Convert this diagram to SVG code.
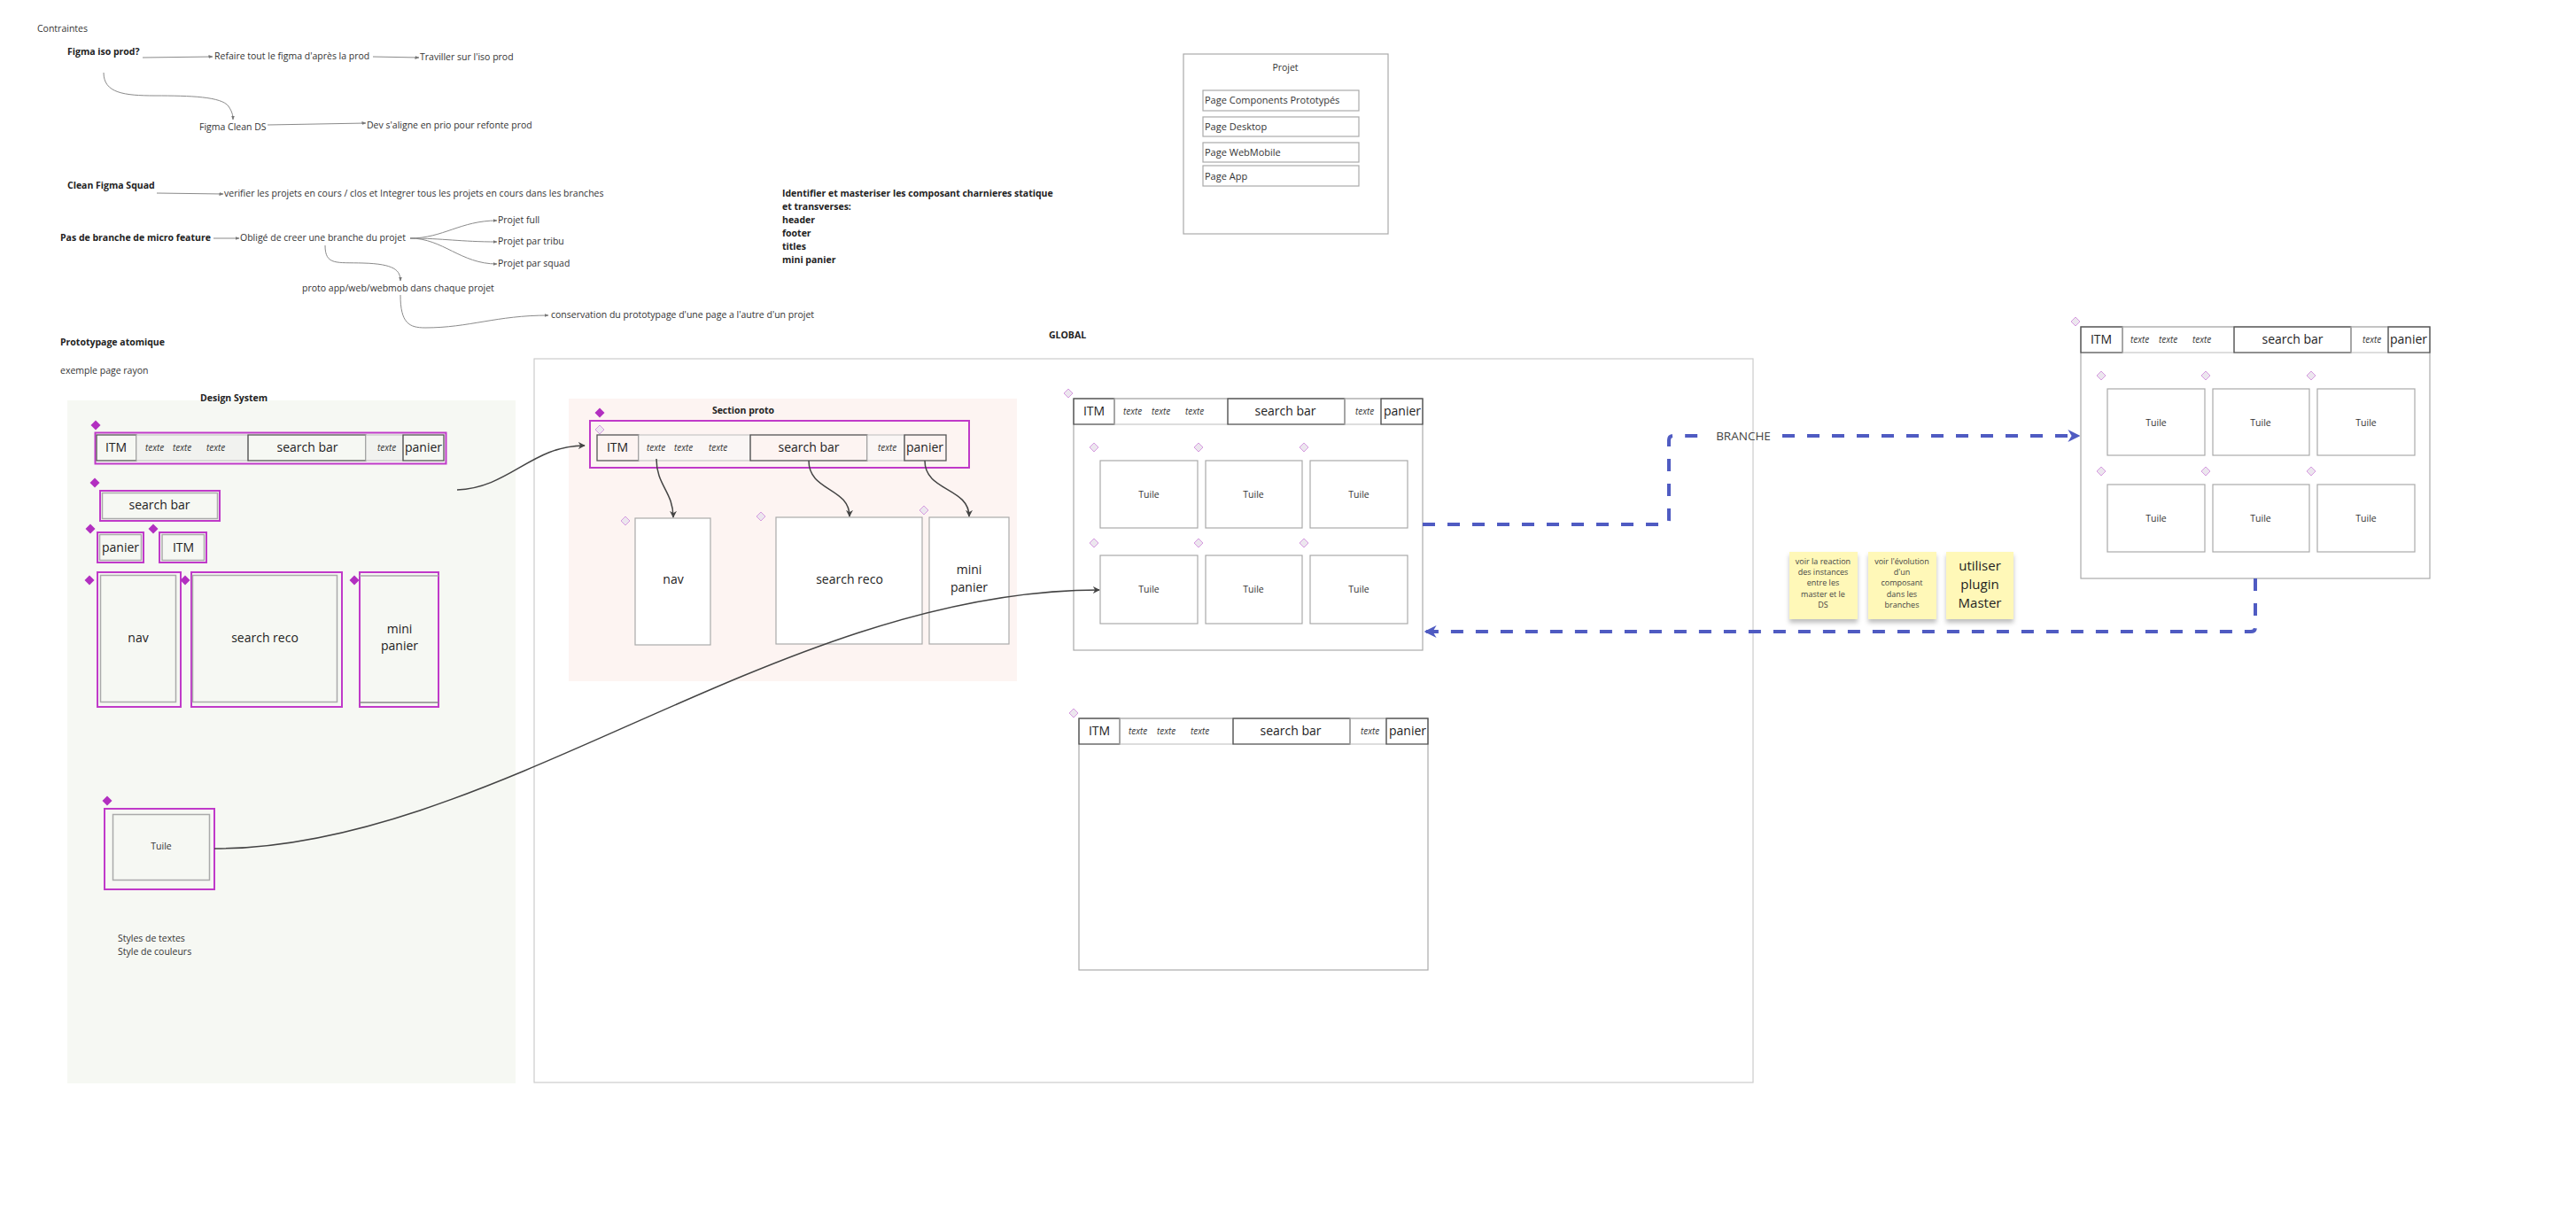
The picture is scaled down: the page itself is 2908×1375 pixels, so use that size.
<svg xmlns="http://www.w3.org/2000/svg" xmlns:xlink="http://www.w3.org/1999/xlink" width="2908" height="1375" viewBox="0 0 2908 1375">
<style>
text{font-family:"Open Sans","Noto Sans","DejaVu Sans",sans-serif;fill:#333}
.t{font-size:10.5px}
.b{font-size:10.5px;font-weight:bold;fill:#222}
.m{text-anchor:middle}
.big{font-size:14px;fill:#222}
.it{font-size:10px;font-style:italic;fill:#333}
.tu{font-size:10.5px;text-anchor:middle}
.pj{font-size:11px}
.st{font-size:9px;text-anchor:middle;fill:#444}
.st2{font-size:15px;text-anchor:middle;fill:#222}
.mg{fill:none;stroke:#c03ac9;stroke-width:2}
.gr{fill:none;stroke:#aaa;stroke-width:1.5}
.box{fill:#fff;stroke:#aaa;stroke-width:1.2}
.dk{fill:none;stroke:#555;stroke-width:1.3}
.lt{fill:none;stroke:#bbb;stroke-width:1}
.ltg{fill:#f1f2ef;stroke:#bbb;stroke-width:1}
.ltp{fill:#faf6f5;stroke:#bbb;stroke-width:1}
.df{fill:#b22fc0}
.dl{fill:#ece6ee;stroke:#d69be0;stroke-width:1}
.cg{fill:none;stroke:#8a8a8a;stroke-width:1}
.cd{fill:none;stroke:#444;stroke-width:1.5}
.cb{fill:none;stroke:#4f5bc2;stroke-width:4;stroke-dasharray:14 14}
.sn{fill:#fff8b8}
</style>
<defs>
<marker id="ag" viewBox="0 0 10 10" refX="9" refY="5" markerWidth="5" markerHeight="5" orient="auto"><path d="M0,1 L10,5 L0,9 Z" fill="#777"/></marker>
<marker id="ad" viewBox="0 0 10 10" refX="9" refY="5" markerWidth="8" markerHeight="8" orient="auto" markerUnits="userSpaceOnUse"><path d="M0,0 L10,5 L0,10 L3,5 Z" fill="#444"/></marker>
<marker id="ab" viewBox="0 0 10 10" refX="9" refY="5" markerWidth="14" markerHeight="14" orient="auto" markerUnits="userSpaceOnUse"><path d="M0,0 L10,5 L0,10 L3,5 Z" fill="#4f5bc2"/></marker>
<path id="dF" d="M0,-5.5 L5.5,0 L0,5.5 L-5.5,0 Z" class="df"/>
<path id="dL" d="M0,-5 L5,0 L0,5 L-5,0 Z" class="dl"/>
<filter id="sh" x="-20%" y="-20%" width="140%" height="150%"><feDropShadow dx="0" dy="4" stdDeviation="2.5" flood-color="#000" flood-opacity="0.25"/></filter>
</defs>

<rect width="2908" height="1375" fill="#fff"/>

<!-- backgrounds / frames -->
<g id="ds-frame">
<rect x="76" y="452" width="506" height="771" fill="#f6f8f3"/>
<text class="b m" x="264" y="453">Design System</text>
</g>
<g id="global-frame">
<rect x="603" y="405" width="1376" height="817" fill="#fff" stroke="#ccc" stroke-width="1.2"/>
<text class="b m" x="1205" y="382">GLOBAL</text>
</g>
<g id="proto-frame">
<rect x="642" y="450" width="506" height="319" fill="#fdf4f2"/>
<text class="b m" x="839" y="467">Section proto</text>
</g>

<!-- top notes -->
<g id="notes">
<text class="t" x="42" y="36">Contraintes</text>
<text class="b" x="76" y="62">Figma iso prod?</text>
<text class="t" x="242" y="67">Refaire tout le figma d'après la prod</text>
<text class="t" x="474" y="68">Traviller sur l'iso prod</text>
<text class="t" x="225" y="147">Figma Clean DS</text>
<text class="t" x="414" y="145">Dev s'aligne en prio pour refonte prod</text>
<text class="b" x="76" y="213">Clean Figma Squad</text>
<text class="t" x="253" y="222">verifier les projets en cours / clos  et Integrer tous les projets en cours dans les branches</text>
<text class="b" x="68" y="272">Pas de branche de micro feature</text>
<text class="t" x="271" y="272">Obligé de creer une branche  du projet</text>
<text class="t" x="562" y="252">Projet full</text>
<text class="t" x="562" y="276">Projet par tribu</text>
<text class="t" x="562" y="301">Projet par squad</text>
<text class="t" x="341" y="329">proto app/web/webmob dans chaque projet</text>
<text class="t" x="622" y="359">conservation du prototypage d'une page a l'autre d'un projet</text>
<text class="b" x="68" y="390">Prototypage atomique</text>
<text class="t" x="68" y="422">exemple page rayon</text>
<text class="b" x="883" y="222">Identifier et masteriser les composant charnieres statique</text>
<text class="b" x="883" y="237">et transverses:</text>
<text class="b" x="883" y="252">header</text>
<text class="b" x="883" y="267">footer</text>
<text class="b" x="883" y="282">titles</text>
<text class="b" x="883" y="297">mini panier</text>
<text class="t" x="133" y="1063">Styles de textes</text>
<text class="t" x="133" y="1078">Style de couleurs</text>
</g>

<!-- Projet box -->
<g id="projet">
<rect x="1336" y="61" width="231" height="203" class="box"/>
<text class="t m" x="1451" y="80">Projet</text>
<rect x="1358" y="102" width="176" height="23" class="box"/>
<text class="pj" x="1360" y="117">Page Components Prototypés</text>
<rect x="1358" y="132" width="176" height="22" class="box"/>
<text class="pj" x="1360" y="147">Page Desktop</text>
<rect x="1358" y="161" width="176" height="22" class="box"/>
<text class="pj" x="1360" y="176">Page WebMobile</text>
<rect x="1358" y="187" width="176" height="23" class="box"/>
<text class="pj" x="1360" y="203">Page App</text>
</g>

<!-- Design System components -->
<g id="ds-header">
<use href="#dF" x="108" y="480"/>
<rect x="107.5" y="488.5" width="396" height="35" class="mg"/>
<g transform="translate(109,491)">
<rect x="0" y="0" width="45" height="29" class="dk"/>
<rect x="45" y="0" width="126" height="29" class="ltg"/>
<rect x="171" y="0" width="133" height="29" class="dk"/>
<rect x="304" y="0" width="42" height="29" class="ltg"/>
<rect x="346" y="0" width="46" height="29" class="dk"/>
<text class="big m" x="22" y="19">ITM</text>
<text class="it" x="55" y="18">texte</text><text class="it" x="86" y="18">texte</text><text class="it" x="124" y="18">texte</text>
<text class="big m" x="238" y="19">search bar</text>
<text class="it" x="317" y="18">texte</text>
<text class="big m" x="369" y="19">panier</text>
</g>
</g>
<g id="ds-searchbar">
<use href="#dF" x="107" y="545"/>
<rect x="113" y="554" width="135" height="34" class="mg"/>
<rect x="115.5" y="556.5" width="130" height="29" class="gr"/>
<text class="big m" x="180" y="575">search bar</text>
</g>
<g id="ds-panier">
<use href="#dF" x="102" y="597"/>
<rect x="110" y="601" width="52" height="34" class="mg"/>
<rect x="112.5" y="603.5" width="47" height="29" class="gr"/>
<text class="big m" x="136" y="623">panier</text>
</g>
<g id="ds-itm">
<use href="#dF" x="173" y="597"/>
<rect x="180" y="601" width="53" height="34" class="mg"/>
<rect x="183" y="603.5" width="47.5" height="29" class="gr"/>
<text class="big m" x="207" y="623">ITM</text>
</g>
<g id="ds-nav">
<use href="#dF" x="101" y="655"/>
<rect x="110" y="646" width="94" height="152" class="mg"/>
<rect x="113.5" y="649.5" width="85" height="143" class="gr"/>
<text class="big m" x="156" y="725">nav</text>
</g>
<g id="ds-searchreco">
<use href="#dF" x="209" y="655"/>
<rect x="216" y="646" width="170" height="152" class="mg"/>
<rect x="217.5" y="649.5" width="163" height="143" class="gr"/>
<text class="big m" x="299" y="725">search reco</text>
</g>
<g id="ds-minipanier">
<use href="#dF" x="400" y="655"/>
<rect x="406" y="646" width="89" height="152" class="mg"/>
<line x1="406" y1="650" x2="495" y2="650" stroke="#aaa" stroke-width="1.5"/>
<line x1="406" y1="793" x2="495" y2="793" stroke="#888" stroke-width="1.5"/>
<text class="big m" x="451" y="715">mini</text>
<text class="big m" x="451" y="734">panier</text>
</g>
<g id="ds-tuile">
<use href="#dF" x="121" y="904"/>
<rect x="118" y="913" width="124" height="91" class="mg"/>
<rect x="127.5" y="919.5" width="109" height="74" class="gr"/>
<text class="tu" x="182" y="959">Tuile</text>
</g>

<!-- Section proto -->
<g id="proto-header">
<use href="#dF" x="677" y="466"/>
<rect x="666" y="475" width="428" height="53" class="mg"/>
<use href="#dL" x="677" y="485"/>
<g transform="translate(674,491)">
<rect x="0" y="0" width="47" height="29" class="dk"/>
<rect x="47" y="0" width="126" height="29" class="ltp"/>
<rect x="173" y="0" width="132" height="29" class="dk"/>
<rect x="305" y="0" width="42" height="29" class="ltp"/>
<rect x="347" y="0" width="47" height="29" class="dk"/>
<text class="big m" x="23" y="19">ITM</text>
<text class="it" x="56" y="18">texte</text><text class="it" x="87" y="18">texte</text><text class="it" x="126" y="18">texte</text>
<text class="big m" x="239" y="19">search bar</text>
<text class="it" x="317" y="18">texte</text>
<text class="big m" x="370" y="19">panier</text>
</g>
</g>
<g id="proto-nav">
<use href="#dL" x="706" y="588"/>
<rect x="717" y="585" width="85" height="143" class="box"/>
<text class="big m" x="760" y="659">nav</text>
</g>
<g id="proto-searchreco">
<use href="#dL" x="859" y="583"/>
<rect x="876" y="584" width="165" height="143" class="box"/>
<text class="big m" x="959" y="659">search reco</text>
</g>
<g id="proto-minipanier">
<use href="#dL" x="1043" y="576"/>
<rect x="1049" y="584" width="90" height="143" class="box"/>
<text class="big m" x="1094" y="648">mini</text>
<text class="big m" x="1094" y="668">panier</text>
</g>

<!-- GLOBAL page top -->
<g id="page-global-top">
<use href="#dL" x="1206" y="444"/>
<rect x="1212" y="450" width="394" height="284" class="box"/>
<g transform="translate(1212,450)">
<rect x="0" y="0" width="46" height="29" class="dk"/>
<rect x="46" y="0" width="128" height="29" class="lt"/>
<rect x="174" y="0" width="132" height="29" class="dk"/>
<rect x="306" y="0" width="41" height="29" class="lt"/>
<rect x="347" y="0" width="47" height="29" class="dk"/>
<text class="big m" x="23" y="19">ITM</text>
<text class="it" x="56" y="18">texte</text><text class="it" x="88" y="18">texte</text><text class="it" x="126" y="18">texte</text>
<text class="big m" x="239" y="19">search bar</text>
<text class="it" x="318" y="18">texte</text>
<text class="big m" x="371" y="19">panier</text>
</g>
<use href="#dL" x="1235" y="505"/><use href="#dL" x="1353" y="505"/><use href="#dL" x="1472" y="505"/>
<use href="#dL" x="1235" y="613"/><use href="#dL" x="1353" y="613"/><use href="#dL" x="1472" y="613"/>
<rect x="1242" y="520" width="110" height="76" class="box" stroke="#ccc"/>
<rect x="1361" y="520" width="109" height="76" class="box" stroke="#ccc"/>
<rect x="1479" y="520" width="110" height="76" class="box" stroke="#ccc"/>
<rect x="1242" y="627" width="110" height="77" class="box" stroke="#ccc"/>
<rect x="1361" y="627" width="109" height="77" class="box" stroke="#ccc"/>
<rect x="1479" y="627" width="110" height="77" class="box" stroke="#ccc"/>
<text class="tu" x="1297" y="562">Tuile</text><text class="tu" x="1415" y="562">Tuile</text><text class="tu" x="1534" y="562">Tuile</text>
<text class="tu" x="1297" y="669">Tuile</text><text class="tu" x="1415" y="669">Tuile</text><text class="tu" x="1534" y="669">Tuile</text>
</g>

<!-- GLOBAL page bottom -->
<g id="page-global-bottom">
<use href="#dL" x="1212" y="805"/>
<rect x="1218" y="811" width="394" height="284" class="box"/>
<g transform="translate(1218,811)">
<rect x="0" y="0" width="46" height="29" class="dk"/>
<rect x="46" y="0" width="128" height="29" class="lt"/>
<rect x="174" y="0" width="132" height="29" class="dk"/>
<rect x="306" y="0" width="41" height="29" class="lt"/>
<rect x="347" y="0" width="47" height="29" class="dk"/>
<text class="big m" x="23" y="19">ITM</text>
<text class="it" x="56" y="18">texte</text><text class="it" x="88" y="18">texte</text><text class="it" x="126" y="18">texte</text>
<text class="big m" x="239" y="19">search bar</text>
<text class="it" x="318" y="18">texte</text>
<text class="big m" x="371" y="19">panier</text>
</g>
</g>

<!-- Right page -->
<g id="page-branch">
<use href="#dL" x="2343" y="363"/>
<rect x="2349" y="369" width="394" height="284" class="box"/>
<g transform="translate(2349,369)">
<rect x="0" y="0" width="47" height="29" class="dk"/>
<rect x="47" y="0" width="126" height="29" class="lt"/>
<rect x="173" y="0" width="132" height="29" class="dk"/>
<rect x="305" y="0" width="42" height="29" class="lt"/>
<rect x="347" y="0" width="47" height="29" class="dk"/>
<text class="big m" x="23" y="19">ITM</text>
<text class="it" x="56" y="18">texte</text><text class="it" x="88" y="18">texte</text><text class="it" x="126" y="18">texte</text>
<text class="big m" x="239" y="19">search bar</text>
<text class="it" x="318" y="18">texte</text>
<text class="big m" x="370" y="19">panier</text>
</g>
<use href="#dL" x="2372" y="424"/><use href="#dL" x="2490" y="424"/><use href="#dL" x="2609" y="424"/>
<use href="#dL" x="2372" y="532"/><use href="#dL" x="2490" y="532"/><use href="#dL" x="2609" y="532"/>
<rect x="2379" y="439" width="110" height="75" class="box" stroke="#ccc"/>
<rect x="2498" y="439" width="109" height="75" class="box" stroke="#ccc"/>
<rect x="2616" y="439" width="110" height="75" class="box" stroke="#ccc"/>
<rect x="2379" y="547" width="110" height="76" class="box" stroke="#ccc"/>
<rect x="2498" y="547" width="109" height="76" class="box" stroke="#ccc"/>
<rect x="2616" y="547" width="110" height="76" class="box" stroke="#ccc"/>
<text class="tu" x="2434" y="481">Tuile</text><text class="tu" x="2552" y="481">Tuile</text><text class="tu" x="2671" y="481">Tuile</text>
<text class="tu" x="2434" y="589">Tuile</text><text class="tu" x="2552" y="589">Tuile</text><text class="tu" x="2671" y="589">Tuile</text>
</g>

<!-- sticky notes -->
<g id="sticky-1">
<rect x="2020" y="623" width="77" height="76" class="sn" filter="url(#sh)"/>
<text class="st" x="2058" y="637">voir la reaction</text>
<text class="st" x="2058" y="649">des instances</text>
<text class="st" x="2058" y="661">entre les</text>
<text class="st" x="2058" y="674">master et le</text>
<text class="st" x="2058" y="686">DS</text>
</g>
<g id="sticky-2">
<rect x="2109" y="623" width="77" height="76" class="sn" filter="url(#sh)"/>
<text class="st" x="2147" y="637">voir l'évolution</text>
<text class="st" x="2147" y="649">d'un</text>
<text class="st" x="2147" y="661">composant</text>
<text class="st" x="2147" y="674">dans les</text>
<text class="st" x="2147" y="686">branches</text>
</g>
<g id="sticky-3">
<rect x="2197" y="623" width="76" height="76" class="sn" filter="url(#sh)"/>
<text class="st2" x="2235" y="644">utiliser</text>
<text class="st2" x="2235" y="665">plugin</text>
<text class="st2" x="2235" y="686">Master</text>
</g>

<!-- connectors -->
<g id="connectors">
<path class="cg" d="M161,65 L240,64" marker-end="url(#ag)"/>
<path class="cg" d="M421,64 L473,65" marker-end="url(#ag)"/>
<path class="cg" d="M117,82 C117,105 140,108 175,108 C215,108 250,109 258,120 C262,126 263,130 263,135" marker-end="url(#ag)"/>
<path class="cg" d="M302,141 L413,139" marker-end="url(#ag)"/>
<path class="cg" d="M177,218 L252,219" marker-end="url(#ag)"/>
<path class="cg" d="M241,269 L270,269" marker-end="url(#ag)"/>
<path class="cg" d="M463,269 C500,269 520,249 561,249" marker-end="url(#ag)"/>
<path class="cg" d="M463,269 C500,269 520,273 561,273" marker-end="url(#ag)"/>
<path class="cg" d="M463,269 C500,269 520,298 561,298" marker-end="url(#ag)"/>
<path class="cg" d="M367,277 C367,300 380,296 410,297 C445,298 452,305 452,317" marker-end="url(#ag)"/>
<path class="cg" d="M452,333 C452,365 462,370 480,370 C530,370 560,356 619,356" marker-end="url(#ag)"/>
<path class="cd" d="M516,553 C575,551 600,503 660,503" marker-end="url(#ad)"/>
<path class="cd" d="M242,958 C560,958 880,666 1241,666" marker-end="url(#ad)"/>
<path class="cd" d="M741,518 C741,548 760,555 760,584" marker-end="url(#ad)"/>
<path class="cd" d="M913,520 C913,555 959,550 959,583" marker-end="url(#ad)"/>
<path class="cd" d="M1044,520 C1044,555 1094,550 1094,583" marker-end="url(#ad)"/>
<path class="cb" d="M1606,592 L1879,592 Q1884,592 1884,587 L1884,497 Q1884,492 1889,492 L1922,492 M2012,492 L2347,492" marker-end="url(#ab)"/>
<path class="cb" d="M2546,653 L2546,708 Q2546,713 2541,713 L1609,713" marker-end="url(#ab)"/>
<text x="1968" y="497" font-size="13.5" text-anchor="middle" style="fill:#444">BRANCHE</text>
</g>
</svg>
